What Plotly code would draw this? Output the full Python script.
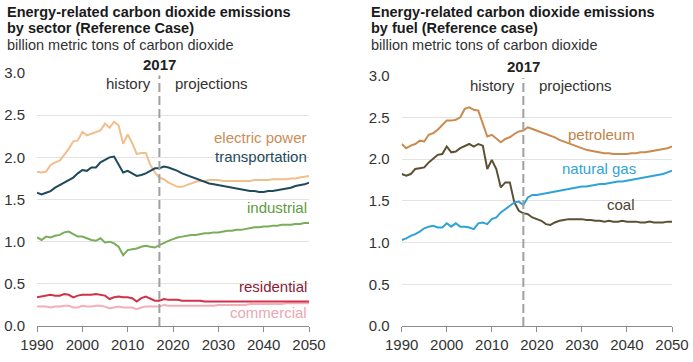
import plotly.graph_objects as go
from plotly.subplots import make_subplots

years = list(range(1990, 2051))

electric_power = [1.83, 1.82, 1.83, 1.91, 1.94, 1.96, 2.03, 2.10, 2.19, 2.20,
                  2.30, 2.26, 2.28, 2.30, 2.32, 2.40, 2.35, 2.42, 2.38, 2.16,
                  2.27, 2.17, 2.04, 2.05, 2.05, 1.91, 1.82, 1.76,
                  1.74, 1.70, 1.67, 1.65, 1.65, 1.67, 1.69, 1.71, 1.72, 1.72,
                  1.73, 1.73, 1.73, 1.72, 1.72, 1.72, 1.72, 1.72, 1.72, 1.72,
                  1.73, 1.73, 1.73, 1.73, 1.74, 1.74, 1.74, 1.74, 1.75, 1.75,
                  1.76, 1.77, 1.78]
transportation = [1.58, 1.56, 1.58, 1.60, 1.64, 1.67, 1.71, 1.73, 1.76, 1.81,
                  1.85, 1.84, 1.88, 1.88, 1.94, 1.97, 2.00, 2.01, 1.91, 1.82,
                  1.84, 1.81, 1.78, 1.79, 1.81, 1.84, 1.87, 1.87,
                  1.89, 1.88, 1.86, 1.84, 1.81, 1.79, 1.77, 1.75, 1.73, 1.71,
                  1.69, 1.68, 1.67, 1.66, 1.65, 1.64, 1.63, 1.62, 1.61, 1.60,
                  1.60, 1.59, 1.59, 1.60, 1.60, 1.61, 1.62, 1.63, 1.64, 1.66,
                  1.67, 1.68, 1.70]
industrial = [1.05, 1.02, 1.06, 1.05, 1.07, 1.08, 1.11, 1.12, 1.09, 1.06,
              1.06, 1.04, 1.02, 1.01, 1.04, 0.99, 1.00, 0.98, 0.94, 0.84,
              0.90, 0.91, 0.92, 0.94, 0.95, 0.94, 0.93, 0.96,
              0.99, 1.01, 1.03, 1.05, 1.06, 1.07, 1.08, 1.08, 1.09, 1.10,
              1.10, 1.11, 1.11, 1.12, 1.13, 1.13, 1.14, 1.14, 1.15, 1.16,
              1.17, 1.17, 1.18, 1.18, 1.19, 1.19, 1.20, 1.20, 1.20, 1.21,
              1.21, 1.22, 1.22]
residential = [0.34, 0.35, 0.36, 0.37, 0.36, 0.36, 0.38, 0.37, 0.34, 0.36,
               0.37, 0.37, 0.37, 0.38, 0.37, 0.36, 0.32, 0.34, 0.35, 0.34,
               0.34, 0.33, 0.29, 0.33, 0.35, 0.32, 0.30, 0.30,
               0.32, 0.31, 0.31, 0.31, 0.30, 0.30, 0.30, 0.30, 0.30, 0.29,
               0.29, 0.29, 0.29, 0.29, 0.29, 0.29, 0.29, 0.29, 0.29, 0.29,
               0.29, 0.29, 0.29, 0.29, 0.29, 0.29, 0.29, 0.29, 0.29, 0.29,
               0.29, 0.29, 0.29]
commercial = [0.23, 0.23, 0.23, 0.22, 0.23, 0.23, 0.24, 0.24, 0.22, 0.22,
              0.24, 0.23, 0.23, 0.24, 0.24, 0.23, 0.21, 0.22, 0.23, 0.22,
              0.22, 0.22, 0.20, 0.22, 0.23, 0.23, 0.23, 0.23,
              0.25, 0.24, 0.24, 0.24, 0.24, 0.24, 0.24, 0.24, 0.24, 0.24,
              0.24, 0.24, 0.25, 0.25, 0.25, 0.25, 0.25, 0.25, 0.25, 0.26,
              0.26, 0.26, 0.26, 0.26, 0.26, 0.26, 0.26, 0.27, 0.27, 0.27,
              0.27, 0.27, 0.27]

petroleum = [2.18, 2.13, 2.16, 2.18, 2.22, 2.21, 2.29, 2.31, 2.35, 2.41,
             2.46, 2.46, 2.47, 2.50, 2.60, 2.62, 2.59, 2.58, 2.43, 2.27,
             2.29, 2.24, 2.20, 2.24, 2.26, 2.30, 2.33, 2.34,
             2.38, 2.36, 2.34, 2.32, 2.30, 2.28, 2.26, 2.23, 2.21, 2.19,
             2.17, 2.15, 2.13, 2.11, 2.10, 2.09, 2.08, 2.07, 2.07, 2.06,
             2.06, 2.06, 2.06, 2.07, 2.07, 2.08, 2.08, 2.09, 2.10, 2.11,
             2.12, 2.13, 2.15]
natural_gas = [1.03, 1.05, 1.08, 1.10, 1.13, 1.17, 1.19, 1.20, 1.18, 1.18,
               1.23, 1.19, 1.23, 1.19, 1.19, 1.18, 1.16, 1.23, 1.24, 1.22,
               1.28, 1.30, 1.36, 1.40, 1.43, 1.48, 1.49, 1.45,
               1.54, 1.57, 1.57, 1.58, 1.59, 1.60, 1.61, 1.62, 1.63, 1.64,
               1.65, 1.66, 1.67, 1.67, 1.68, 1.69, 1.70, 1.70, 1.71, 1.72,
               1.73, 1.73, 1.74, 1.75, 1.76, 1.77, 1.78, 1.79, 1.80, 1.81,
               1.82, 1.84, 1.86]
coal = [1.82, 1.80, 1.82, 1.88, 1.89, 1.90, 1.96, 2.01, 2.05, 2.06,
        2.15, 2.08, 2.09, 2.13, 2.16, 2.18, 2.15, 2.18, 2.16, 1.88,
        1.99, 1.88, 1.66, 1.72, 1.72, 1.48, 1.38, 1.35,
        1.34, 1.30, 1.28, 1.26, 1.22, 1.21, 1.24, 1.26, 1.27, 1.28,
        1.28, 1.28, 1.28, 1.27, 1.27, 1.26, 1.26, 1.25, 1.26, 1.25,
        1.25, 1.26, 1.25, 1.25, 1.25, 1.24, 1.24, 1.25, 1.24, 1.24,
        1.24, 1.25, 1.25]

x_ticks = [1990, 2000, 2010, 2020, 2030, 2040, 2050]
y_ticks = [0.0, 0.5, 1.0, 1.5, 2.0, 2.5, 3.0]
split_year = 2017

FONT = "Liberation Sans, Arial, sans-serif"
TXT = "#333333"
FS = 15
FT = 14.5

left_series = [
    ("electric power", electric_power, "#F2BE8C", "#C98D58", 2.23, "right", 2050),
    ("transportation", transportation, "#1E4A5C", "#1E4A5C", 2.01, "right", 2050),
    ("industrial", industrial, "#78AD5A", "#5E9C40", 1.41, "right", 2050),
    ("commercial", commercial, "#F3AFB9", "#EBA7B3", 0.16, "right", 2050),
    ("residential", residential, "#D33149", "#8A2036", 0.47, "right", 2050),
]
right_series = [
    ("petroleum", petroleum, "#C98B4E", "#C08246", 2.29, "center", 2034.4),
    ("coal", coal, "#5C5033", "#4C4330", 1.46, "center", 2038.6),
    ("natural gas", natural_gas, "#2FA3D6", "#2FA3D6", 1.89, "center", 2033.7),
]

fig = make_subplots(rows=1, cols=2)

annotations = []
for col, series in ((1, left_series), (2, right_series)):
    xr = "x" if col == 1 else "x2"
    yr = "y" if col == 1 else "y2"
    for name, vals, lc, tc, ly, anc, lx in series:
        fig.add_trace(go.Scatter(x=years, y=vals, mode="lines",
                                 line=dict(color=lc, width=2), name=name,
                                 showlegend=False, hoverinfo="skip"),
                      row=1, col=col)
        annotations.append(dict(x=lx, y=ly, xref=xr, yref=yr, text=name,
                                showarrow=False, xanchor=anc, yanchor="middle",
                                font=dict(family=FONT, size=FS, color=tc)))
    # dashed divider
    fig.add_shape(type="line", x0=split_year, x1=split_year, y0=0, y1=2.97,
                  xref=xr, yref=yr,
                  line=dict(color="#A0A0A0", width=2, dash="9px,4px"))
    annotations.append(dict(x=split_year, y=1.035, xref=xr, yref=yr + " domain",
                            text="<b>2017</b>", showarrow=False,
                            xanchor="center", yanchor="middle",
                            font=dict(family=FONT, size=FS, color="#222222")))
    annotations.append(dict(x=2015.6, y=2.88, xref=xr, yref=yr, text="history",
                            showarrow=False, xanchor="right", yanchor="middle",
                            font=dict(family=FONT, size=FS, color=TXT)))
    annotations.append(dict(x=2020.0, y=2.88, xref=xr, yref=yr,
                            text="projections", showarrow=False,
                            xanchor="left", yanchor="middle",
                            font=dict(family=FONT, size=FS, color=TXT)))

W, H = 693, 362
ML, MR, MT, MB = 37, 21, 73, 36
PW = W - ML - MR
PH = H - MT - MB


def px_x(px):
    return (px - ML) / PW


def px_y(py):
    return (H - MB - py) / PH


titles = [
    (5, ["Energy-related carbon dioxide emissions", "by sector (Reference Case)"]),
    (369, ["Energy-related carbon dioxide emissions", "by fuel (Reference case)"]),
]
for xpx, (l1, l2) in titles:
    annotations.append(dict(x=px_x(xpx), y=px_y(11.5), xref="paper", yref="paper",
                            text="<b>" + l1 + "</b>", showarrow=False,
                            xanchor="left", yanchor="middle",
                            font=dict(family=FONT, size=FT, color="#1a1a1a")))
    annotations.append(dict(x=px_x(xpx), y=px_y(28), xref="paper", yref="paper",
                            text="<b>" + l2 + "</b>", showarrow=False,
                            xanchor="left", yanchor="middle",
                            font=dict(family=FONT, size=FT, color="#1a1a1a")))
    annotations.append(dict(x=px_x(xpx), y=px_y(45), xref="paper", yref="paper",
                            text="billion metric tons of carbon dioxide",
                            showarrow=False, xanchor="left", yanchor="middle",
                            font=dict(family=FONT, size=FT, color=TXT)))

xaxis_common = dict(range=[1990, 2050], tickvals=x_ticks, showgrid=False,
                    showline=True, linecolor="#8C8C8C", linewidth=1,
                    ticks="outside", ticklen=5, tickcolor="#8C8C8C",
                    tickfont=dict(family=FONT, size=FS, color=TXT),
                    zeroline=False, fixedrange=True, automargin=False)
yaxis_common = dict(range=[0, 3.0], tickvals=y_ticks, tickformat=".1f",
                    showgrid=True, gridcolor="#E3E3E3", gridwidth=1,
                    zeroline=False, showline=False, ticks="",
                    ticklabelstandoff=11, automargin=False,
                    tickfont=dict(family=FONT, size=FS, color=TXT))

fig.update_layout(
    width=W, height=H,
    margin=dict(l=ML, r=MR, t=MT, b=MB, pad=0),
    plot_bgcolor="white", paper_bgcolor="white",
    showlegend=False,
    annotations=annotations,
    xaxis=dict(domain=[0, (309 - ML) / PW], **xaxis_common),
    xaxis2=dict(domain=[(401.7 - ML) / PW, 1], **xaxis_common),
    yaxis=dict(domain=[0, 1], **yaxis_common),
    yaxis2=dict(domain=[0, 0.99], **yaxis_common),
)

fig.write_html("out.html",
               config={"displayModeBar": False},
               post_script="document.body.style.margin='0';"
                           "document.body.style.overflow='hidden';")
